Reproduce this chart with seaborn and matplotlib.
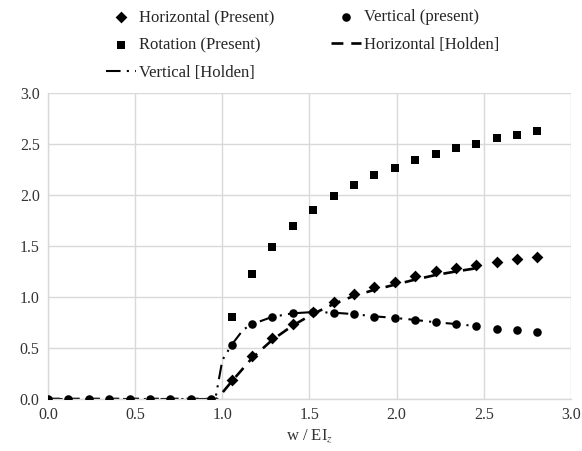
import numpy as np
import pandas as pd
import matplotlib
matplotlib.use("Agg")
import matplotlib.pyplot as plt
import seaborn as sns

step = 0.117
x_zero = [round(i * step, 3) for i in range(0, 9)]
x_load = [round(i * step, 3) for i in range(9, 25)]

vert_zero = [0.0] * 9
horiz_present = [0.185, 0.419, 0.594, 0.737, 0.850, 0.948, 1.029, 1.094,
                 1.149, 1.207, 1.250, 1.282, 1.314, 1.344, 1.373, 1.396]
vert_present = [0.532, 0.733, 0.808, 0.844, 0.854, 0.847, 0.834, 0.808,
                0.795, 0.776, 0.753, 0.737, 0.717, 0.688, 0.675, 0.659]
rot_present = [0.80, 1.227, 1.49, 1.70, 1.853, 1.99, 2.10, 2.194,
               2.266, 2.34, 2.40, 2.46, 2.50, 2.554, 2.587, 2.626]

hh_x = [0.0, 0.5, 0.97, 1.053, 1.17, 1.287, 1.404, 1.521, 1.638, 1.755,
        1.872, 1.989, 2.106, 2.223, 2.34, 2.47]
hh_y = [0.0, 0.0, 0.0, 0.17, 0.40, 0.58, 0.72, 0.835, 0.93, 1.01,
        1.07, 1.12, 1.17, 1.215, 1.25, 1.285]
vh_x = [0.0, 0.5, 0.96, 1.0, 1.053, 1.12, 1.17, 1.287, 1.404, 1.521, 1.638,
        1.755, 1.872, 1.989, 2.106, 2.223, 2.34, 2.47]
vh_y = [0.0, 0.0, 0.0, 0.38, 0.53, 0.68, 0.733, 0.805, 0.84, 0.852, 0.846,
        0.832, 0.81, 0.795, 0.775, 0.752, 0.735, 0.712]

x_ticks = [0.0, 0.5, 1.0, 1.5, 2.0, 2.5, 3.0]
y_ticks = [0.0, 0.5, 1.0, 1.5, 2.0, 2.5, 3.0]

sns.set_theme(style="white")
plt.rcParams["font.family"] = ["Liberation Serif", "DejaVu Serif"]
plt.rcParams["mathtext.fontset"] = "stix"

fig = plt.figure(figsize=(5.82, 4.51), dpi=100)
ax = fig.add_axes([0.0825, 0.1153, 0.8985, 0.6787])

df_h = pd.DataFrame({"x": x_load, "y": horiz_present})
df_v = pd.DataFrame({"x": x_zero + x_load, "y": vert_zero + vert_present})
df_r = pd.DataFrame({"x": x_load, "y": rot_present})
df_hh = pd.DataFrame({"x": hh_x, "y": hh_y})
df_vh = pd.DataFrame({"x": vh_x, "y": vh_y})

ax.grid(True, color="#d9d9d9", linewidth=1.0)
ax.set_axisbelow(True)

sns.lineplot(data=df_hh, x="x", y="y", ax=ax, color="black", lw=1.9,
             sort=False, estimator=None, label="Horizontal [Holden]")
ax.lines[-1].set_dashes((4.5, 3))
sns.lineplot(data=df_vh, x="x", y="y", ax=ax, color="black", lw=1.5,
             sort=False, estimator=None, label="Vertical [Holden]")
ax.lines[-1].set_dashes((7, 3, 1, 3, 1, 3))

sns.scatterplot(data=df_r, x="x", y="y", ax=ax, marker="s", s=36,
                color="black", edgecolor="black", linewidth=0, label="Rotation (Present)", zorder=3)
sns.scatterplot(data=df_h, x="x", y="y", ax=ax, marker="D", s=36,
                color="black", edgecolor="black", linewidth=0, label="Horizontal (Present)", zorder=3)
sns.scatterplot(data=df_v, x="x", y="y", ax=ax, marker="o", s=38,
                color="black", edgecolor="black", linewidth=0, label="Vertical (present)", zorder=3)

ax.set_xlim(0, 3.0)
ax.set_ylim(0, 3.0)
ax.set_xticks(x_ticks)
ax.set_yticks(y_ticks)
ax.set_xticklabels([f"{v:.1f}" for v in x_ticks])
ax.set_yticklabels([f"{v:.1f}" for v in y_ticks])
ax.tick_params(axis="both", length=0, labelsize=11.5, colors="#333333", pad=6)
ax.set_xlabel("w / EI$_{z}$", fontsize=12, color="#333333", labelpad=3)
ax.set_ylabel("")
for s in ["top", "right"]:
    ax.spines[s].set_visible(False)
for s in ["left", "bottom"]:
    ax.spines[s].set_color("#d9d9d9")
    ax.spines[s].set_linewidth(1.0)

handles, labels = ax.get_legend_handles_labels()
hmap = dict(zip(labels, handles))
order = ["Horizontal (Present)", "Rotation (Present)", "Vertical [Holden]",
         "Vertical (present)", "Horizontal [Holden]"]
ax.legend([hmap[k] for k in order], order, ncol=2, loc="upper center",
          bbox_to_anchor=(0.52, 1.013), bbox_transform=fig.transFigure,
          frameon=False, fontsize=12, labelspacing=0.72, columnspacing=3.45,
          handlelength=1.8, handletextpad=0.15)

fig.savefig("out.png", dpi=100)
